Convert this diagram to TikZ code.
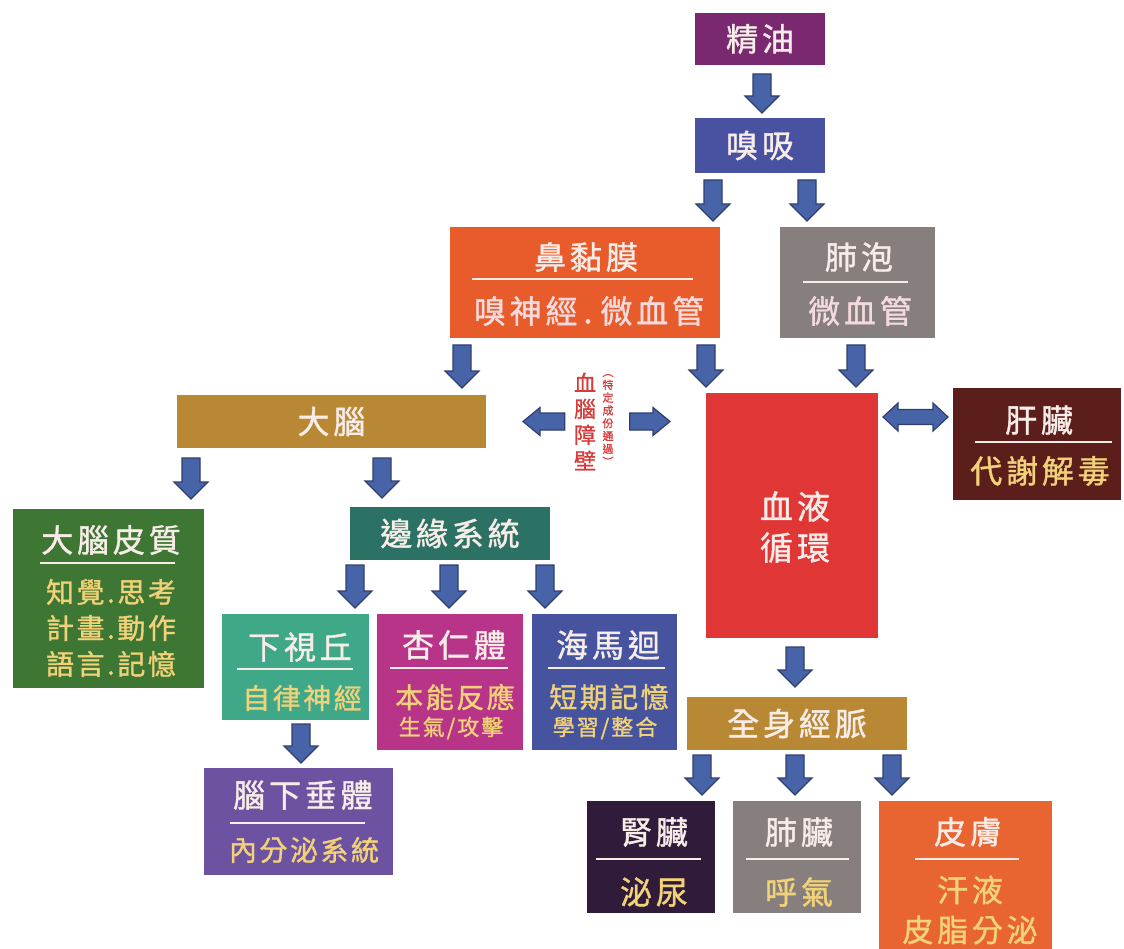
\documentclass[tikz,border=0pt]{standalone}
\usepackage{fontspec}
\newfontfamily\cjkA{Noto Sans CJK TC}[LetterSpace=12,FakeBold=1.2]
\newfontfamily\cjkB{Noto Sans CJK TC}[LetterSpace=9,FakeBold=1.2]
\newfontfamily\cjkC{Noto Sans CJK TC}[FakeBold=1]
\usetikzlibrary{calc}
\definecolor{cJY}{RGB}{122,40,112}
\definecolor{cXX}{RGB}{72,82,160}
\definecolor{cNB}{RGB}{232,92,44}
\definecolor{cGray}{RGB}{135,126,126}
\definecolor{cGold}{RGB}{184,136,52}
\definecolor{cRed}{RGB}{224,54,54}
\definecolor{cGZ}{RGB}{92,30,26}
\definecolor{cDP}{RGB}{62,118,52}
\definecolor{cBY}{RGB}{44,114,100}
\definecolor{cXS}{RGB}{62,168,136}
\definecolor{cXR}{RGB}{184,52,136}
\definecolor{cHM}{RGB}{70,84,160}
\definecolor{cNX}{RGB}{108,82,160}
\definecolor{cSZ}{RGB}{48,28,58}
\definecolor{cPF}{RGB}{232,100,48}
\definecolor{arrowfill}{RGB}{72,100,168}
\definecolor{arrowline}{RGB}{48,62,110}
\definecolor{ttlc}{RGB}{248,236,232}
\definecolor{subY}{RGB}{242,210,120}
\definecolor{subP}{RGB}{244,218,220}
\definecolor{bbbred}{RGB}{216,58,58}
\definecolor{sepc}{RGB}{248,236,228}
% block arrow: from, to, half shaft, half head, head length
\newcommand\blkarrow[5]{%
  \filldraw[blk] ($(#1)!#3!90:(#2)$) -- ($(#2)!#5!(#1)!#3!-90:(#1)$)
    -- ($(#2)!#5!(#1)!#4!-90:(#1)$) -- (#2)
    -- ($(#2)!#5!(#1)!#4!90:(#1)$) -- ($(#2)!#5!(#1)!#3!90:(#1)$)
    -- ($(#1)!#3!-90:(#2)$) -- cycle;}
\newcommand\dblarrow[5]{%
  \filldraw[blk] (#1) -- ($(#1)!#5!(#2)!#4!90:(#2)$) -- ($(#1)!#5!(#2)!#3!90:(#2)$)
    -- ($(#2)!#5!(#1)!#3!-90:(#1)$) -- ($(#2)!#5!(#1)!#4!-90:(#1)$) -- (#2)
    -- ($(#2)!#5!(#1)!#4!90:(#1)$) -- ($(#2)!#5!(#1)!#3!90:(#1)$)
    -- ($(#1)!#5!(#2)!#3!-90:(#2)$) -- ($(#1)!#5!(#2)!#4!-90:(#2)$) -- cycle;}
\tikzset{
  box/.style={rectangle, inner sep=0pt, outer sep=0pt, anchor=north west},
  big/.style={font=\cjkA\fontsize{32}{38}\selectfont, text=ttlc, inner sep=0pt, align=center},
  mid/.style={font=\cjkB\fontsize{28}{36}\selectfont, text=subY, inner sep=0pt, align=center},
  small/.style={font=\cjkB\fontsize{22}{26}\selectfont, text=subY, inner sep=0pt},
  ysub/.style={big, text=subY},
  psub/.style={big, text=subP},
  sepline/.style={draw=sepc, line width=2.8pt},
  blk/.style={fill=arrowfill, draw=arrowline, line width=1.2pt, line join=miter}
}
\begin{document}
\begin{tikzpicture}[x=1pt,y=-1pt]
\useasboundingbox (0,0) rectangle (1124,949);
\fill[white] (0,0) rectangle (1124,949);

% ---------- boxes ----------
\node[box, big, fill=cJY, minimum width=130pt, minimum height=52pt] (jy) at (695,13) {精油};
\node[box, big, fill=cXX, minimum width=130pt, minimum height=55pt] (xx) at (695,118) {嗅吸};

\node[box, fill=cNB, minimum width=270pt, minimum height=111pt] (nb) at (450,227) {};
\node[big] (nb-t) at (586,257) {鼻黏膜};
\draw[sepline] ([xshift=22pt,yshift=-52pt]nb.north west) -- ([xshift=-27pt,yshift=-52pt]nb.north east);
\node[psub] (nb-s) at (589,311) {嗅神經\hspace{6pt}.\hspace{8pt}微血管};

\node[box, fill=cGray, minimum width=155pt, minimum height=111pt] (fp) at (780,227) {};
\node[big] (fp-t) at (859,257) {肺泡};
\draw[sepline] ([xshift=23pt,yshift=-55pt]fp.north west) -- ([xshift=-27pt,yshift=-55pt]fp.north east);
\node[psub] (fp-s) at (860,311) {微血管};

\node[box, big, fill=cGold, minimum width=309pt, minimum height=53pt] (dn) at (177,395) {大腦};

\node[box, fill=cRed, minimum width=172pt, minimum height=245pt] (xy) at (706,393) {};
\node[big, font=\cjkA\fontsize{33}{41}\selectfont] (xy-t) at (795,527) {血液\\循環};

\node[box, fill=cGZ, minimum width=168pt, minimum height=112pt] (gz) at (953,388) {};
\node[big] (gz-t) at (1039,420) {肝臟};
\draw[sepline] ([xshift=22pt,yshift=-54pt]gz.north west) -- ([xshift=-9pt,yshift=-54pt]gz.north east);
\node[ysub] (gz-s) at (1040,471) {代謝解毒};

\node[box, fill=cDP, minimum width=191pt, minimum height=179pt] (dp) at (13,509) {};
\node[big] (dp-t) at (111,540) {大腦皮質};
\draw[sepline] ([xshift=27pt,yshift=-54pt]dp.north west) -- ([xshift=-29pt,yshift=-54pt]dp.north east);
\node[mid] (dp-s) at (111,628) {知覺.思考\\計畫.動作\\語言.記憶};

\node[box, big, fill=cBY, minimum width=200pt, minimum height=53pt] (by) at (350,507) {邊緣系統};

\node[box, fill=cXS, minimum width=147pt, minimum height=106pt] (xs) at (222,614) {};
\node[big] (xs-t) at (300,647) {下視丘};
\draw[sepline] ([xshift=15pt,yshift=-55pt]xs.north west) -- ([xshift=-16pt,yshift=-55pt]xs.north east);
\node[mid] (xs-s) at (302,698) {自律神經};

\node[box, fill=cXR, minimum width=146pt, minimum height=136pt] (xr) at (377,614) {};
\node[big] (xr-t) at (454,645) {杏仁體};
\draw[sepline] ([xshift=13pt,yshift=-54pt]xr.north west) -- ([xshift=-15pt,yshift=-54pt]xr.north east);
\node[mid] (xr-s) at (455,697) {本能反應};
\node[small] (xr-u) at (451,728) {生氣/攻擊};

\node[box, fill=cHM, minimum width=145pt, minimum height=136pt] (hm) at (532,614) {};
\node[big] (hm-t) at (608,645) {海馬迴};
\draw[sepline] ([xshift=16pt,yshift=-54pt]hm.north west) -- ([xshift=-12pt,yshift=-54pt]hm.north east);
\node[mid] (hm-s) at (609,697) {短期記憶};
\node[small] (hm-u) at (605,728) {學習/整合};

\node[box, fill=cNX, minimum width=189pt, minimum height=107pt] (nx) at (204,768) {};
\node[big] (nx-t) at (303,795) {腦下垂體};
\draw[sepline] ([xshift=26pt,yshift=-55pt]nx.north west) -- ([xshift=-28pt,yshift=-55pt]nx.north east);
\node[mid] (nx-s) at (304,850) {內分泌系統};

\node[box, big, fill=cGold, minimum width=220pt, minimum height=53pt] (qs) at (687,697) {全身經脈};

\node[box, fill=cSZ, minimum width=128pt, minimum height=112pt] (sz) at (587,801) {};
\node[big] (sz-t) at (654,832) {腎臟};
\draw[sepline] ([xshift=9pt,yshift=-58pt]sz.north west) -- ([xshift=-14pt,yshift=-58pt]sz.north east);
\node[ysub] (sz-s) at (654,892) {泌尿};

\node[box, fill=cGray, minimum width=128pt, minimum height=112pt] (fz) at (733,801) {};
\node[big] (fz-t) at (799,832) {肺臟};
\draw[sepline] ([xshift=13pt,yshift=-58pt]fz.north west) -- ([xshift=-12pt,yshift=-58pt]fz.north east);
\node[ysub] (fz-s) at (799,892) {呼氣};

\node[box, fill=cPF, minimum width=173pt, minimum height=148pt] (pf) at (879,801) {};
\node[big] (pf-t) at (968,832) {皮膚};
\draw[sepline] ([xshift=36pt,yshift=-58pt]pf.north west) -- ([xshift=-33pt,yshift=-58pt]pf.north east);
\node[ysub, font=\cjkA\fontsize{31}{40}\selectfont] (pf-s) at (970,910) {汗液\\皮脂分泌};

% ---------- blood-brain barrier label ----------
\node[font=\cjkC\fontsize{22}{26}\selectfont, text=bbbred, align=center, inner sep=0pt] (bbb) at (585,421.5) {血\\腦\\障\\壁};
\node[font=\cjkC\fontsize{11}{12.8}\selectfont, text=bbbred, align=center, inner sep=0pt] (par) at (608,420) {︵\\特\\定\\成\\份\\通\\過\\︶};

% ---------- arrows ----------
\coordinate (a1s) at ([xshift=67pt,yshift=-9pt]jy.south west);
\coordinate (a1e) at ([xshift=67pt,yshift=5pt]xx.north west);
\coordinate (a2s) at ([xshift=18pt,yshift=-7pt]xx.south west);
\coordinate (a2e) at ([xshift=-7pt,yshift=6pt]nb.north east);
\coordinate (a3s) at ([xshift=112pt,yshift=-7pt]xx.south west);
\coordinate (a3e) at ([xshift=27pt,yshift=6pt]fp.north west);
\coordinate (a4s) at ([xshift=12pt,yshift=-7pt]nb.south west);
\coordinate (a4e) at ([xshift=-24pt,yshift=7pt]dn.north east);
\coordinate (a5s) at ([xshift=-14pt,yshift=-7pt]nb.south east);
\coordinate (a5e) at ([yshift=6pt]xy.north west);
\coordinate (a6s) at ([xshift=-79pt,yshift=-7pt]fp.south east);
\coordinate (a6e) at ([xshift=-22pt,yshift=6pt]xy.north east);
\coordinate (a7s) at ([xshift=14pt,yshift=-10pt]dn.south west);
\coordinate (a7e) at ([xshift=178pt,yshift=10pt]dp.north west);
\coordinate (a8s) at ([xshift=205pt,yshift=-10pt]dn.south west);
\coordinate (a8e) at ([xshift=32pt,yshift=9pt]by.north west);
\coordinate (a9s) at ([xshift=5pt,yshift=-5pt]by.south west);
\coordinate (a9e) at ([xshift=133pt,yshift=6pt]xs.north west);
\coordinate (a10s) at ([xshift=99pt,yshift=-5pt]by.south west);
\coordinate (a10e) at ([xshift=72pt,yshift=6pt]xr.north west);
\coordinate (a11s) at ([xshift=195pt,yshift=-5pt]by.south west);
\coordinate (a11e) at ([xshift=13pt,yshift=6pt]hm.north west);
\coordinate (a12s) at ([xshift=79pt,yshift=-4pt]xs.south west);
\coordinate (a12e) at ([xshift=97pt,yshift=5pt]nx.north west);
\coordinate (a13s) at ([xshift=89pt,yshift=-9pt]xy.south west);
\coordinate (a13e) at ([xshift=108pt,yshift=10pt]qs.north west);
\coordinate (a14s) at ([xshift=15pt,yshift=-5pt]qs.south west);
\coordinate (a14e) at ([xshift=115pt,yshift=6pt]sz.north west);
\coordinate (a15s) at ([xshift=108pt,yshift=-5pt]qs.south west);
\coordinate (a15e) at ([xshift=62pt,yshift=6pt]fz.north west);
\coordinate (a16s) at ([xshift=205pt,yshift=-5pt]qs.south west);
\coordinate (a16e) at ([xshift=13pt,yshift=6pt]pf.north west);
\foreach \i in {1,...,16}{\blkarrow{a\i s}{a\i e}{9pt}{17pt}{17pt}}

\coordinate (ble) at ([xshift=37pt]dn.east);
\coordinate (bw) at ([xshift=-9pt]bbb.west);
\coordinate (bls) at (bw |- ble);
\blkarrow{bls}{ble}{8.5pt}{14pt}{17pt}
\coordinate (brs0) at ([xshift=16pt]par.east);
\coordinate (brs) at (brs0 |- ble);
\coordinate (bre0) at ([xshift=-36pt]xy.north west);
\coordinate (bre) at (bre0 |- ble);
\blkarrow{brs}{bre}{8.5pt}{14pt}{17pt}

\coordinate (d1) at ([xshift=5pt,yshift=-24pt]xy.north east);
\coordinate (d2) at ([xshift=-5pt,yshift=-29pt]gz.north west);
\dblarrow{d1}{d2}{7.5pt}{14pt}{15pt}
\end{tikzpicture}
\end{document}
